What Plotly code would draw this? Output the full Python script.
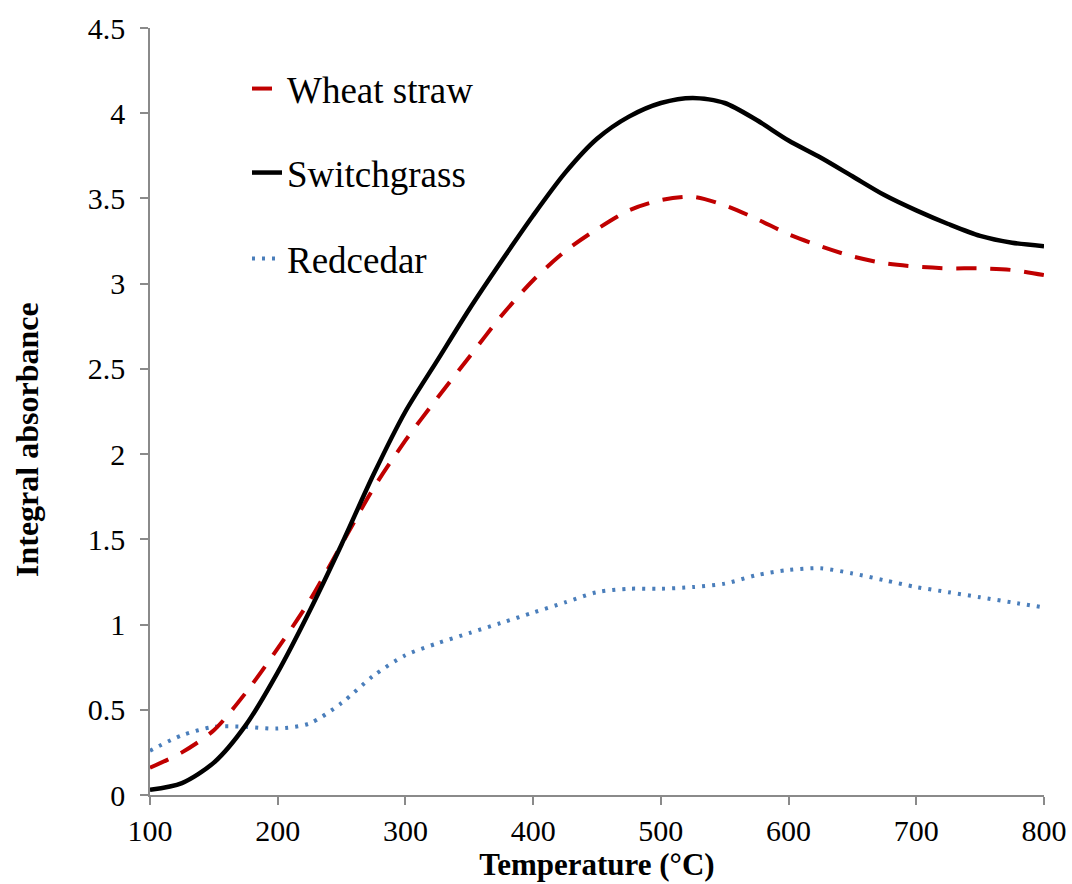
import plotly.graph_objects as go

temperature = [100, 125, 150, 175, 200, 225, 250, 275, 300, 325, 350, 375, 400, 425,
               450, 475, 500, 525, 550, 575, 600, 625, 650, 675, 700, 725, 750, 775, 800]
wheat_straw = [0.16, 0.25, 0.38, 0.60, 0.86, 1.14, 1.47, 1.80, 2.08, 2.33, 2.57, 2.81, 3.02, 3.19,
               3.32, 3.43, 3.49, 3.51, 3.46, 3.38, 3.29, 3.22, 3.16, 3.12, 3.10, 3.09, 3.09, 3.08, 3.05]
switchgrass = [0.03, 0.07, 0.19, 0.41, 0.72, 1.08, 1.47, 1.88, 2.25, 2.55, 2.85, 3.13, 3.40, 3.65,
               3.85, 3.98, 4.06, 4.09, 4.06, 3.96, 3.84, 3.74, 3.63, 3.52, 3.43, 3.35, 3.28, 3.24, 3.22]
redcedar = [0.26, 0.35, 0.40, 0.40, 0.39, 0.42, 0.54, 0.70, 0.82, 0.89, 0.95, 1.01, 1.07, 1.13,
            1.19, 1.21, 1.21, 1.22, 1.24, 1.29, 1.32, 1.33, 1.30, 1.26, 1.22, 1.19, 1.16, 1.13, 1.10]

x_ticks = [100, 200, 300, 400, 500, 600, 700, 800]
y_ticks = [0, 0.5, 1, 1.5, 2, 2.5, 3, 3.5, 4, 4.5]
y_tick_labels = ["0", "0.5", "1", "1.5", "2", "2.5", "3", "3.5", "4", "4.5"]
x_title = "Temperature (°C)"
y_title = "Integral absorbance"

SERIF = "Liberation Serif, Times New Roman, serif"
AXIS_GRAY = "#8a8a8a"

fig = go.Figure()
fig.add_trace(go.Scatter(
    x=temperature, y=redcedar, name="Redcedar", mode="lines",
    line=dict(color="#4a7ebb", width=4, dash="3px,7px", shape="spline", smoothing=0.8),
    legend="legend3"))
fig.add_trace(go.Scatter(
    x=temperature, y=wheat_straw, name="Wheat straw", mode="lines",
    line=dict(color="#c00000", width=4, dash="20px,14px", shape="spline", smoothing=0.8),
    legend="legend"))
fig.add_trace(go.Scatter(
    x=temperature, y=switchgrass, name="Switchgrass", mode="lines",
    line=dict(color="#000000", width=4.5, shape="spline", smoothing=0.8),
    legend="legend2"))

L, R, T, B = 150, 28, 28, 89
W, H = 1072, 884
pw, ph = W - L - R, H - T - B

def px_x(px):
    return (px - L) / pw

def px_y(py):
    return (H - B - py) / ph

leg_common = dict(xanchor="left", yanchor="middle", bgcolor="rgba(0,0,0,0)",
                  borderwidth=0, font=dict(family=SERIF, size=37, color="black"))

fig.update_layout(
    width=W, height=H,
    margin=dict(l=L, r=R, t=T, b=B, pad=0),
    paper_bgcolor="white", plot_bgcolor="white",
    font=dict(family=SERIF, color="black"),
    showlegend=True,
    legend=dict(x=px_x(247), y=px_y(89), **leg_common),
    legend2=dict(x=px_x(247), y=px_y(173), **leg_common),
    legend3=dict(x=px_x(247), y=px_y(259), **leg_common),
    xaxis=dict(
        range=[100, 800], tickvals=x_ticks, ticks="outside", ticklen=8, tickwidth=1.5,
        tickcolor=AXIS_GRAY, showline=True, linecolor=AXIS_GRAY, linewidth=1.5,
        showgrid=False, zeroline=False, automargin=False,
        tickfont=dict(family=SERIF, size=30, color="black"),
        title=dict(text="<b>" + x_title + "</b>", standoff=5,
                   font=dict(family=SERIF, size=31, color="black")),
    ),
    yaxis=dict(
        range=[0, 4.5], tickvals=y_ticks, ticktext=y_tick_labels, ticks="outside",
        ticklen=8, tickwidth=1.5, tickcolor=AXIS_GRAY, showline=True,
        linecolor=AXIS_GRAY, linewidth=1.5, showgrid=False, zeroline=False,
        automargin=False, ticklabelstandoff=9,
        tickfont=dict(family=SERIF, size=30, color="black"),
    ),
    annotations=[dict(
        text="<b>" + y_title + "</b>", textangle=-90, showarrow=False,
        xref="paper", yref="paper", x=px_x(27), y=px_y(440),
        xanchor="center", yanchor="middle",
        font=dict(family=SERIF, size=32, color="black"),
    )],
)

fig.write_html("out.html")
